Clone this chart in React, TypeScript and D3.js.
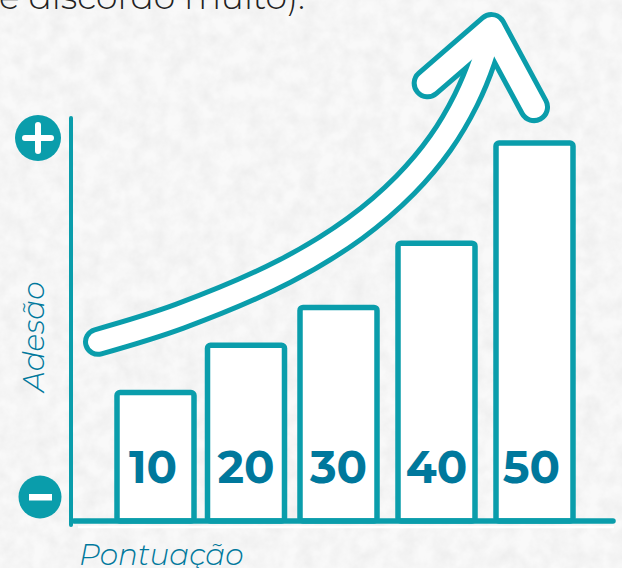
import React from "react";
import * as d3 from "d3";

const scores = [10, 20, 30, 40, 50];
const adhesion = [34, 46.5, 56.5, 73.5, 100];
const trendScore = [3.65, 12.7, 24.2, 31.7, 36.8, 40.4, 43, 44.7, 45.6];
const trendAdhesion = [47.4, 54.2, 66.1, 77.5, 88.9, 100, 111.4, 122, 130.4];
const headScore = [39.1, 45.6, 49.95];
const headAdhesion = [115.8, 130.4, 109.5];

const TEAL = "#0a9dab";
const BLUE = "#00789c";
const FONT = "Montserrat, Inter, 'Open Sans', sans-serif";

const x = d3.scaleLinear().domain(scores).range([155.5, 246, 338.5, 436.5, 534.5]);
const labelX = d3.scaleLinear().domain(scores).range([153, 246, 338.5, 436.5, 531.5]);
const y = d3.scaleLinear().domain([0, 100]).range([521, 143]);
const barW = 77;

const line = d3.line<[number, number]>().x(d => x(d[0])).y(d => y(d[1]));
const shaft = d3.line<[number, number]>().x(d => x(d[0])).y(d => y(d[1])).curve(d3.curveCatmullRom.alpha(0.5));
const trend = d3.zip(trendScore, trendAdhesion) as [number, number][];
const head = d3.zip(headScore, headAdhesion) as [number, number][];

export default function App() {
  return (
    <svg width={622} height={568} style={{ position: "absolute", left: 0, top: 0, display: "block" }}>
      <defs>
        <filter id="paper" x="0" y="0" width="100%" height="100%">
          <feTurbulence type="fractalNoise" baseFrequency="0.06" numOctaves={4} seed={4} />
          <feColorMatrix type="matrix" values="0 0 0 0 0  0 0 0 0 0  0 0 0 0 0  0.07 0 0 0 -0.02" />
        </filter>
      </defs>
      <rect width={622} height={568} fill="#f9f9f9" />
      <rect width={622} height={568} filter="url(#paper)" />

      <text x={-1} y={9} fontFamily={FONT} fontSize={34.5} fontWeight={300} fill="#222">e discordo muito).</text>

      {/* bars */}
      {scores.map((s, i) => (
        <rect key={s} x={x(s) - barW / 2} y={y(adhesion[i])} width={barW} height={y(0) - y(adhesion[i])}
          rx={3} fill="#fff" stroke={TEAL} strokeWidth={5.5} />
      ))}
      {scores.map(s => (
        <text key={s} x={labelX(s)} y={483} textAnchor="middle" fontFamily={FONT} fontSize={45} fontWeight={700}
          fill={BLUE}>{s}</text>
      ))}

      {/* axes */}
      <line x1={78} x2={614} y1={527} y2={527} stroke="#fff" strokeWidth={2.5} />
      <line x1={71} x2={71} y1={118} y2={525} stroke={TEAL} strokeWidth={4} strokeLinecap="round" />
      <line x1={74} x2={613} y1={521} y2={521} stroke={TEAL} strokeWidth={5.5} strokeLinecap="round" />

      {/* arrow */}
      <g fill="none" strokeLinecap="round" strokeLinejoin="round">
        <path d={shaft(trend)!} stroke={TEAL} strokeWidth={30} />
        <path d={line(head)!} stroke={TEAL} strokeWidth={32} />
        <path d={shaft(trend)!} stroke="#fff" strokeWidth={20} />
        <path d={line(head)!} stroke="#fff" strokeWidth={22} />
      </g>

      {/* plus / minus */}
      <circle cx={38} cy={138} r={23} fill={TEAL} />
      <path d="M25 138H51M38 125V151" stroke="#fff" strokeWidth={6} strokeLinecap="round" />
      <circle cx={40} cy={497} r={21.5} fill={TEAL} />
      <rect x={29} y={494} width={23} height={6.5} fill="#fff" />

      <text transform="translate(44,392) rotate(-90)" fontFamily={FONT} fontSize={29.5} fontStyle="italic" fontWeight={300} fill={BLUE}>Adesão</text>
      <text x={79} y={565} fontFamily={FONT} fontSize={29.5} fontStyle="italic" fontWeight={300} fill={BLUE}>Pontuação</text>
    </svg>
  );
}
